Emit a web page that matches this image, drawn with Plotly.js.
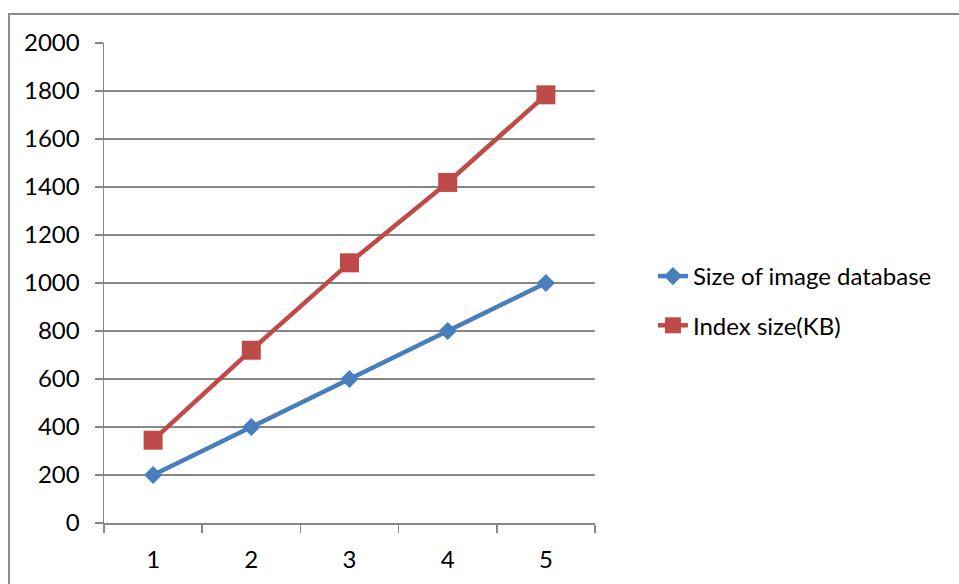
<!DOCTYPE html>
<html>
<head>
<meta charset="utf-8">
<script src="https://cdn.plot.ly/plotly-3.0.1.min.js"></script>
<style>
  html, body { margin: 0; padding: 0; background: #fff; }
  #wrap { position: absolute; left: 0; top: 0; width: 959px; height: 584px; }
  #frame { position: absolute; left: 8px; top: 13px; width: 951px; height: 571px;
           border-top: 2px solid #8c8c8c; border-left: 2px solid #8c8c8c; box-sizing: border-box; }
  #chart { position: absolute; left: 0; top: 0; width: 959px; height: 584px; }
</style>
</head>
<body>
<div id="wrap">
  <div id="frame"></div>
  <div id="chart"></div>
</div>
<script>
const categories = ['1', '2', '3', '4', '5'];
const sizeOfImageDatabase = [200, 400, 600, 800, 1000];
const indexSizeKB = [345, 720, 1084, 1419, 1784];
const seriesNames = ['Size of image database', 'Index size(KB)'];
const yTicks = [0, 200, 400, 600, 800, 1000, 1200, 1400, 1600, 1800, 2000];

const FONT = 'Lato, "Open Sans", "Liberation Sans", sans-serif';

const traces = [
  {
    x: categories, y: sizeOfImageDatabase, name: seriesNames[0],
    type: 'scatter', mode: 'lines+markers', legendgroup: 'a',
    line: { color: '#4a7ebb', width: 4.5 },
    marker: { symbol: 'diamond', size: 14, color: '#4a7ebb' }
  },
  {
    x: categories, y: indexSizeKB, name: seriesNames[1],
    type: 'scatter', mode: 'lines+markers', legendgroup: 'b',
    line: { color: '#be4b48', width: 4.5 },
    marker: { symbol: 'square', size: 19, color: '#be4b48' }
  }
];

const layout = {
  width: 959, height: 584,
  margin: { l: 104, r: 364, t: 43, b: 61, pad: 0 },
  paper_bgcolor: 'rgba(0,0,0,0)',
  plot_bgcolor: 'rgba(0,0,0,0)',
  font: { family: FONT, size: 24, color: '#000' },
  showlegend: true,
  legend: {
    x: 1.118, xanchor: 'left', y: 0.4625, yanchor: 'middle',
    font: { family: FONT, size: 24, color: '#000' },
    traceorder: 'grouped', tracegroupgap: 15,
    bgcolor: 'rgba(0,0,0,0)'
  },
  xaxis: {
    type: 'category', tickson: 'boundaries',
    range: [-0.5, 4.5],
    showline: true, linecolor: '#868686', linewidth: 1.5,
    ticks: 'outside', ticklen: 8, tickcolor: '#868686', tickwidth: 1.5,
    showgrid: false, zeroline: false,
    ticklabelstandoff: 15,
    tickfont: { family: FONT, size: 24, color: '#000' }
  },
  yaxis: {
    range: [0, 2000], tickmode: 'array', tickvals: yTicks,
    showline: true, linecolor: '#868686', linewidth: 1.5,
    ticks: 'outside', ticklen: 8, tickcolor: '#868686', tickwidth: 1.5,
    showgrid: true, gridcolor: '#868686', gridwidth: 1.5,
    zeroline: false,
    ticklabelstandoff: 10,
    tickfont: { family: FONT, size: 24, color: '#000' }
  }
};

Plotly.newPlot('chart', traces, layout, { displayModeBar: false, staticPlot: true });
</script>
</body>
</html>
